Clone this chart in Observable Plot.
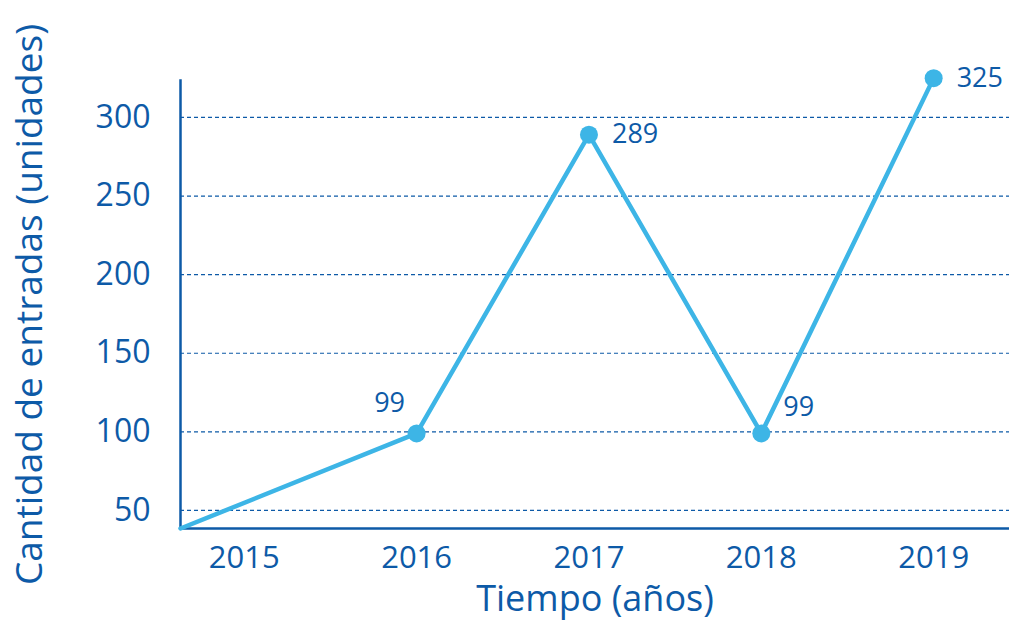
<!DOCTYPE html>
<html>
<head>
<meta charset="utf-8">
<script src="https://cdn.jsdelivr.net/npm/d3@7"></script>
<script src="https://cdn.jsdelivr.net/npm/@observablehq/plot@0.6"></script>
<style>
  html, body { margin: 0; padding: 0; background: #ffffff; }
  #chart svg { display: block; }
</style>
</head>
<body>
<div id="chart"></div>
<script>
// Data
const years = [2014.63, 2016, 2017, 2018, 2019];
const entradas = [38.5, 99, 289, 99, 325];
const labeledYears = [2016, 2017, 2018, 2019];
const labeledValues = [99, 289, 99, 325];
const xTicks = [2015, 2016, 2017, 2018, 2019];
const yTicks = [50, 100, 150, 200, 250, 300];
const xTitle = "Tiempo (años)";
const yTitle = "Cantidad de entradas (unidades)";

const series = years.map((x, i) => ({x, y: entradas[i]}));
const points = labeledYears.map((x, i) => ({x, y: labeledValues[i]}));

const dark = "#0d5aa7";
const light = "#3db5e6";

const chart = Plot.plot({
  width: 1009,
  height: 624,
  marginLeft: 180,
  marginRight: 0,
  marginTop: 80,
  marginBottom: 96,
  x: {domain: [2014.63, 2019.44]},
  y: {domain: [38.5, 323.5]},
  style: {fontFamily: "'Open Sans', sans-serif", color: dark, background: "#ffffff"},
  marks: [
    Plot.ruleY(yTicks, {stroke: dark, strokeWidth: 1.2, strokeDasharray: "4,3"}),
    Plot.frame({anchor: "left", stroke: dark, strokeWidth: 2.5}),
    Plot.frame({anchor: "bottom", stroke: dark, strokeWidth: 2.5}),
    Plot.axisX(xTicks, {tickSize: 0, tickPadding: 17, fontSize: 31, tickFormat: d => String(d), label: null}),
    Plot.axisY(yTicks, {tickSize: 0, tickPadding: 30, fontSize: 32, label: null}),
    Plot.line(series, {x: "x", y: "y", stroke: light, strokeWidth: 4.5}),
    Plot.dot(points, {x: "x", y: "y", r: 9, fill: light}),
    Plot.text(points, {filter: d => d.x === 2016, x: "x", y: "y", text: d => String(d.y), fill: dark, fontSize: 27, dx: -27, dy: -30}),
    Plot.text(points, {filter: d => d.x === 2017 || d.x === 2019, x: "x", y: "y", text: d => String(d.y), fill: dark, fontSize: 27, textAnchor: "start", dx: 23, dy: 0}),
    Plot.text(points, {filter: d => d.x === 2018, x: "x", y: "y", text: d => String(d.y), fill: dark, fontSize: 27, textAnchor: "start", dx: 22, dy: -26}),
    Plot.text([xTitle], {frameAnchor: "bottom", fill: dark, fontSize: 36, dy: 82}),
    Plot.text([yTitle], {frameAnchor: "left", textAnchor: "middle", fill: dark, fontSize: 37, rotate: -90, dx: -150})
  ]
});
document.getElementById("chart").appendChild(chart);
</script>
</body>
</html>
